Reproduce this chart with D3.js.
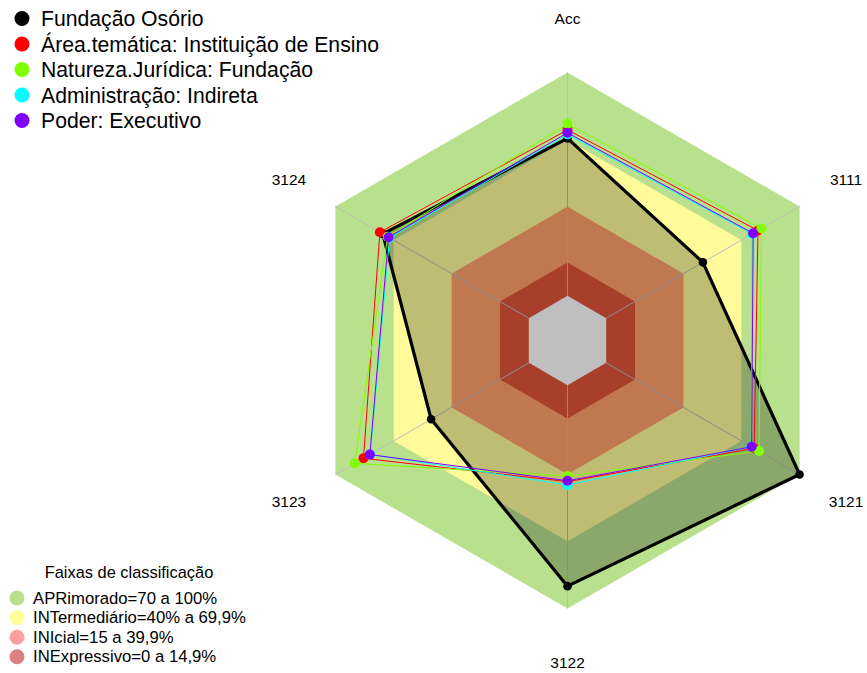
<!DOCTYPE html>
<html>
<head>
<meta charset="utf-8">
<script src="https://cdn.jsdelivr.net/npm/d3@7"></script>
<style>
  body { margin: 0; background: #fff; }
  text { font-family: "Liberation Sans", Arial, sans-serif; fill: #000; }
</style>
</head>
<body>
<div id="radar"></div>
<script>
// eixos do radar (sentido horário a partir do topo)
var axes = ["Acc", "3111", "3121", "3122", "3123", "3124"];

// séries (valores em %)
var seriesNames = ["Fundação Osório", "Área.temática: Instituição de Ensino",
    "Natureza.Jurídica: Fundação", "Administração: Indireta", "Poder: Executivo"];
var seriesColors = ["#000000", "#ff0000", "#80ff00", "#00ffff", "#8000ff"];
var fundacao   = [70.5, 50, 100, 90, 50.5, 75.5];
var areaTemat  = [74.3, 78.5, 76.5, 43.2, 85.5, 77];
var natureza   = [77, 80.3, 79, 40.7, 90, 73];
var administr  = [72.3, 75.5, 75, 44.7, 82, 72];
var poder      = [73, 76, 75.2, 42.8, 82.2, 72.5];
var seriesValues = [fundacao, areaTemat, natureza, administr, poder];

// faixas de classificação
var bandNames = ["APRimorado=70 a 100%", "INTermediário=40% a 69,9%", "INIcial=15 a 39,9%", "INExpressivo=0 a 14,9%"];
var bandLimits = [100, 69.9, 39.9, 14.9];
var bandFill = ["#b9e08c", "#fffb9a", "#ffa06b", "#e05538"];
var bandLegendColors = ["#b8e08c", "#ffff9c", "#ff9e9e", "#dc8080"];

var width = 867, height = 673;
var cx = 567.5, cy = 340.5, R = 268;

var svg = d3.select("#radar")
    .append("svg")
    .attr("width", width)
    .attr("height", height);

// raio: 0% começa no buraco central (1/6 do raio)
var rScale = d3.scaleLinear().domain([0, 100]).range([R / 6, R]);
var angle = function(i) { return i * 2 * Math.PI / axes.length; };

var radial = d3.lineRadial()
    .angle(function(d, i) { return angle(i); })
    .radius(function(d) { return rScale(d); })
    .curve(d3.curveLinearClosed);

var g = svg.append("g").attr("transform", "translate(" + cx + "," + cy + ")");

// faixas
bandLimits.forEach(function(v, k) {
    g.append("path")
        .attr("d", radial(axes.map(function() { return v; })))
        .attr("fill", bandFill[k]);
});
// buraco central
g.append("path")
    .attr("d", radial(axes.map(function() { return 0; })))
    .attr("fill", "#fff");

// linhas dos eixos
axes.forEach(function(a, i) {
    var r0 = rScale(0), r1 = rScale(100);
    g.append("line")
        .attr("x1", r0 * Math.sin(angle(i)))
        .attr("y1", -r0 * Math.cos(angle(i)))
        .attr("x2", r1 * Math.sin(angle(i)))
        .attr("y2", -r1 * Math.cos(angle(i)))
        .attr("stroke", "#bdbdbd")
        .attr("stroke-width", 1);
});

// rótulos dos eixos
axes.forEach(function(a, i) {
    var rl = R * 1.2;
    g.append("text")
        .attr("x", rl * Math.sin(angle(i)))
        .attr("y", -rl * Math.cos(angle(i)))
        .attr("text-anchor", "middle")
        .attr("dominant-baseline", "central")
        .attr("font-size", 15.5)
        .text(a);
});

// séries
seriesValues.forEach(function(vals, s) {
    var main = s === 0;
    g.append("path")
        .attr("d", radial(vals))
        .attr("fill", main ? "rgba(0,0,0,0.25)" : "none")
        .attr("stroke", seriesColors[s])
        .attr("stroke-width", main ? 3.2 : 1)
        .attr("stroke-linejoin", "round");
    g.append("g")
        .selectAll("circle")
        .data(vals)
        .enter()
        .append("circle")
        .attr("cx", function(d, i) { return rScale(d) * Math.sin(angle(i)); })
        .attr("cy", function(d, i) { return -rScale(d) * Math.cos(angle(i)); })
        .attr("r", main ? 4.3 : 5)
        .attr("fill", seriesColors[s]);
});

// legenda das séries
var leg = svg.append("g");
seriesNames.forEach(function(n, s) {
    var y = 18.5 + s * 25.5;
    leg.append("circle")
        .attr("cx", 22).attr("cy", y).attr("r", 7.5)
        .attr("fill", seriesColors[s]);
    leg.append("text")
        .attr("x", 41).attr("y", y)
        .attr("dominant-baseline", "central")
        .attr("font-size", 21.2)
        .text(n);
});

// legenda das faixas
var leg2 = svg.append("g");
leg2.append("text")
    .attr("x", 129).attr("y", 572)
    .attr("text-anchor", "middle")
    .attr("dominant-baseline", "central")
    .attr("font-size", 16.4)
    .text("Faixas de classificação");
bandNames.forEach(function(n, k) {
    var y = 598 + k * 19.6;
    leg2.append("circle")
        .attr("cx", 17).attr("cy", y).attr("r", 7.5)
        .attr("fill", bandLegendColors[k]);
    leg2.append("text")
        .attr("x", 33).attr("y", y)
        .attr("dominant-baseline", "central")
        .attr("font-size", 16.7)
        .text(n);
});
</script>
</body>
</html>
